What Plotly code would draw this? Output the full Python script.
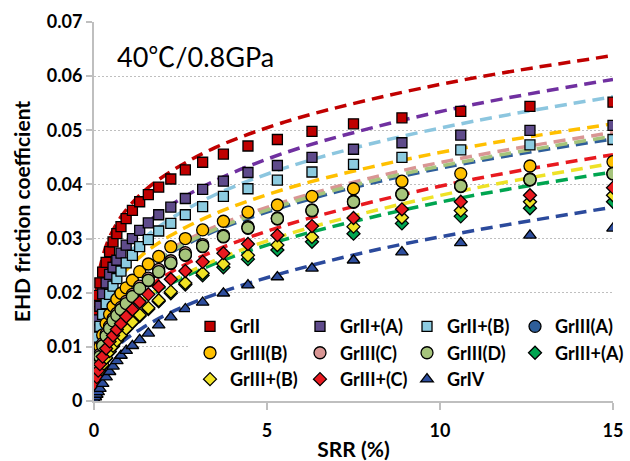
import plotly.graph_objects as go

# Slide-to-roll ratio (%) at which friction was measured
srr = [0.01, 0.04, 0.08, 0.12, 0.17, 0.25, 0.35, 0.45, 0.55, 0.66, 0.78, 0.93,
       1.11, 1.32, 1.57, 1.87, 2.22, 2.64, 3.14, 3.74, 4.45, 5.3, 6.3, 7.5,
       8.9, 10.6, 12.6, 15.0]

# Measured EHD friction coefficients
grii = [0.0035, 0.0110, 0.0165, 0.0195, 0.0218, 0.0238, 0.0256, 0.0276, 0.0294, 0.0309,
        0.0322, 0.0337, 0.0352, 0.0368, 0.0381, 0.0395, 0.0410, 0.0427, 0.0441, 0.0456,
        0.0471, 0.0483, 0.0498, 0.0512, 0.0523, 0.0535, 0.0544, 0.0552]
grii_a = [0.0022, 0.0075, 0.0120, 0.0150, 0.0175, 0.0198, 0.0218, 0.0234, 0.0247, 0.0260,
          0.0273, 0.0288, 0.0300, 0.0315, 0.0329, 0.0344, 0.0358, 0.0374, 0.0391, 0.0406,
          0.0422, 0.0435, 0.0450, 0.0465, 0.0477, 0.0491, 0.0500, 0.0509]
grii_b = [0.0018, 0.0058, 0.0095, 0.0118, 0.0138, 0.0160, 0.0180, 0.0197, 0.0212, 0.0226,
          0.0240, 0.0255, 0.0269, 0.0285, 0.0298, 0.0314, 0.0328, 0.0344, 0.0359, 0.0378,
          0.0392, 0.0408, 0.0423, 0.0437, 0.0450, 0.0464, 0.0473, 0.0483]
griii_a = [0.0007, 0.0028, 0.0049, 0.0065, 0.0081, 0.0101, 0.0119, 0.0133, 0.0147, 0.0157,
           0.0168, 0.0179, 0.0192, 0.0207, 0.0222, 0.0238, 0.0254, 0.0269, 0.0285, 0.0303,
           0.0319, 0.0336, 0.0351, 0.0367, 0.0381, 0.0396, 0.0408, 0.0419]
griii_b = [0.0010, 0.0036, 0.0062, 0.0080, 0.0100, 0.0122, 0.0143, 0.0160, 0.0175, 0.0188,
           0.0199, 0.0209, 0.0223, 0.0239, 0.0253, 0.0267, 0.0285, 0.0300, 0.0316, 0.0332,
           0.0349, 0.0362, 0.0378, 0.0392, 0.0406, 0.0420, 0.0434, 0.0442]
griii_c = [0.0009, 0.0031, 0.0053, 0.0070, 0.0086, 0.0106, 0.0124, 0.0138, 0.0152, 0.0162,
           0.0173, 0.0184, 0.0197, 0.0212, 0.0227, 0.0243, 0.0259, 0.0274, 0.0289, 0.0306,
           0.0322, 0.0338, 0.0353, 0.0369, 0.0383, 0.0398, 0.0410, 0.0421]
griii_d = [0.0008, 0.0029, 0.0050, 0.0066, 0.0082, 0.0102, 0.0120, 0.0134, 0.0148, 0.0158,
           0.0169, 0.0180, 0.0193, 0.0208, 0.0223, 0.0239, 0.0255, 0.0270, 0.0286, 0.0304,
           0.0320, 0.0337, 0.0352, 0.0368, 0.0382, 0.0397, 0.0409, 0.0420]
griii_pa = [0.0005, 0.0019, 0.0034, 0.0044, 0.0054, 0.0066, 0.0079, 0.0091, 0.0101, 0.0111,
            0.0121, 0.0133, 0.0145, 0.0157, 0.0170, 0.0184, 0.0199, 0.0215, 0.0232, 0.0247,
            0.0262, 0.0279, 0.0294, 0.0309, 0.0328, 0.0341, 0.0356, 0.0368]
griii_pb = [0.0006, 0.0020, 0.0035, 0.0045, 0.0055, 0.0067, 0.0080, 0.0092, 0.0102, 0.0112,
            0.0122, 0.0134, 0.0146, 0.0159, 0.0172, 0.0186, 0.0202, 0.0218, 0.0236, 0.0253,
            0.0269, 0.0288, 0.0303, 0.0322, 0.0339, 0.0352, 0.0368, 0.0380]
griii_pc = [0.0008, 0.0027, 0.0044, 0.0056, 0.0068, 0.0082, 0.0097, 0.0110, 0.0121, 0.0132,
            0.0143, 0.0156, 0.0169, 0.0183, 0.0197, 0.0211, 0.0225, 0.0240, 0.0257, 0.0273,
            0.0290, 0.0306, 0.0323, 0.0338, 0.0354, 0.0368, 0.0380, 0.0394]
griv = [0.0002, 0.0007, 0.0012, 0.0017, 0.0023, 0.0032, 0.0044, 0.0054, 0.0064, 0.0074,
        0.0084, 0.0093, 0.0102, 0.0113, 0.0125, 0.0140, 0.0155, 0.0170, 0.0182, 0.0199,
        0.0214, 0.0229, 0.0245, 0.0260, 0.0275, 0.0292, 0.0306, 0.0319]

# Predicted friction curves (dashed lines)
curve_srr = [0.01, 0.05, 0.15, 0.4, 0.8, 1.4, 2.2, 3.5, 5.5, 8.0, 11.0, 15.0]
grii_curve = [0.0134, 0.0189, 0.0239, 0.0295, 0.0342, 0.0385, 0.0423, 0.0468, 0.0515, 0.0557, 0.0597, 0.0638]
grii_a_curve = [0.0089, 0.0135, 0.0180, 0.0231, 0.0277, 0.0321, 0.0361, 0.0407, 0.0458, 0.0504, 0.0548, 0.0594]
grii_b_curve = [0.0079, 0.0122, 0.0164, 0.0213, 0.0256, 0.0298, 0.0336, 0.0381, 0.0430, 0.0475, 0.0517, 0.0562]
griii_a_curve = [0.0055, 0.0089, 0.0123, 0.0164, 0.0202, 0.0239, 0.0273, 0.0314, 0.0359, 0.0402, 0.0442, 0.0484]
griii_b_curve = [0.0071, 0.0110, 0.0148, 0.0193, 0.0232, 0.0270, 0.0305, 0.0346, 0.0391, 0.0432, 0.0471, 0.0512]
griii_c_curve = [0.0056, 0.0091, 0.0126, 0.0168, 0.0207, 0.0245, 0.0280, 0.0322, 0.0368, 0.0412, 0.0453, 0.0496]
griii_d_curve = [0.0055, 0.0089, 0.0124, 0.0166, 0.0204, 0.0241, 0.0276, 0.0317, 0.0363, 0.0406, 0.0446, 0.0489]
griii_pa_curve = [0.0033, 0.0057, 0.0084, 0.0119, 0.0151, 0.0184, 0.0216, 0.0254, 0.0298, 0.0339, 0.0380, 0.0423]
griii_pb_curve = [0.0032, 0.0056, 0.0084, 0.0119, 0.0153, 0.0187, 0.0220, 0.0260, 0.0306, 0.0350, 0.0393, 0.0439]
griii_pc_curve = [0.0038, 0.0065, 0.0095, 0.0133, 0.0168, 0.0203, 0.0237, 0.0278, 0.0324, 0.0367, 0.0410, 0.0455]
griv_curve = [0.0018, 0.0035, 0.0054, 0.0081, 0.0108, 0.0135, 0.0163, 0.0197, 0.0237, 0.0277, 0.0315, 0.0358]

# Legend columns, left to right; each column is its own legend box
legend_columns = ["legend4", "legend3", "legend2", "legend"]

# name, measured values, curve values, marker symbol, marker size, fill colour, curve colour
series = [
    ("GrII", grii, grii_curve, "square", 10, "#C00000", "#C00000"),
    ("GrII+(A)", grii_a, grii_a_curve, "square", 10, "#5F4B8B", "#7030A0"),
    ("GrII+(B)", grii_b, grii_b_curve, "square", 10, "#8CCBE0", "#8CC6DF"),
    ("GrIII(A)", griii_a, griii_a_curve, "circle", 12, "#2E5E9A", "#2E5E9A"),
    ("GrIII(B)", griii_b, griii_b_curve, "circle", 12, "#FFC000", "#FFC000"),
    ("GrIII(C)", griii_c, griii_c_curve, "circle", 12, "#D99694", "#D99694"),
    ("GrIII(D)", griii_d, griii_d_curve, "circle", 12, "#A6C47C", "#A6C47C"),
    ("GrIII+(A)", griii_pa, griii_pa_curve, "diamond", 10, "#00A550", "#00A550"),
    ("GrIII+(B)", griii_pb, griii_pb_curve, "diamond", 10, "#F0E224", "#EEE226"),
    ("GrIII+(C)", griii_pc, griii_pc_curve, "diamond", 10, "#E8191F", "#E8191F"),
    ("GrIV", griv, griv_curve, "triangle-up", 11, "#2E4E9E", "#2B4A9C"),
]

fig = go.Figure()

# Dashed curves go underneath the markers. They carry no legend entry; they are
# attached to the legend boxes right-to-left so that each column's white box is
# painted before the column to its left.
for i, (name, vals, curve, sym, size, fill, lcol) in enumerate(series):
    fig.add_trace(go.Scatter(
        x=curve_srr, y=curve, mode="lines", showlegend=False, hoverinfo="skip",
        legend=legend_columns[3 - i % 4],
        line=dict(color=lcol, width=3.5, dash="12px,7px", shape="spline"),
    ))

for i, (name, vals, curve, sym, size, fill, lcol) in enumerate(series):
    fig.add_trace(go.Scatter(
        x=srr, y=vals, mode="markers", name=name,
        legend=legend_columns[i % 4],
        marker=dict(symbol=sym, size=size, color=fill,
                    line=dict(color="#000000", width=1.3)),
    ))

font_family = "Lato, 'Noto Sans CJK JP', sans-serif"

fig.add_annotation(
    text="40℃/0.8GPa", xref="paper", yref="paper", x=0.04, y=0.91,
    xanchor="left", yanchor="middle", showarrow=False,
    font=dict(family=font_family, size=27, color="#000000"),
)

legend_font = dict(family=font_family, size=18, color="#000000", weight="bold")
legend_x = {"legend4": 0.1850, "legend3": 0.3969, "legend2": 0.6031, "legend": 0.8112}
legend_layout = {
    key: dict(orientation="v", x=xpos, y=0.245, xanchor="left", yanchor="top",
              bgcolor="white", borderwidth=0, font=legend_font, traceorder="normal")
    for key, xpos in legend_x.items()
}

fig.update_layout(
    width=630, height=461,
    margin=dict(l=94, r=17, t=22, b=60, autoexpand=False),
    paper_bgcolor="white", plot_bgcolor="white",
    font=dict(family=font_family, color="#000000"),
    **legend_layout,
    xaxis=dict(
        range=[0, 15], tickvals=[0, 5, 10, 15], ticktext=["0", "5", "10", "15"],
        showgrid=False, zeroline=False, automargin=False,
        showline=True, linecolor="#BFBFBF", linewidth=2,
        ticks="outside", ticklen=7, tickwidth=1.5, tickcolor="#BFBFBF",
        ticklabelstandoff=5,
        tickfont=dict(size=18, weight="bold"),
        title=dict(text="SRR (%)", font=dict(size=21, weight="bold"), standoff=16),
    ),
    yaxis=dict(
        range=[0, 0.07], tickvals=[0, 0.01, 0.02, 0.03, 0.04, 0.05, 0.06, 0.07],
        ticktext=["0", "0.01", "0.02", "0.03", "0.04", "0.05", "0.06", "0.07"],
        showgrid=True, gridcolor="#BFBFBF", gridwidth=1, griddash="2px,2px",
        zeroline=False, automargin=False,
        showline=True, linecolor="#BFBFBF", linewidth=2,
        ticks="outside", ticklen=6, tickwidth=1.5, tickcolor="#BFBFBF",
        tickfont=dict(size=18, weight="bold"),
        title=dict(text="EHD friction coefficient", font=dict(size=21, weight="bold"), standoff=10),
    ),
)

fig.write_html("out.html")
